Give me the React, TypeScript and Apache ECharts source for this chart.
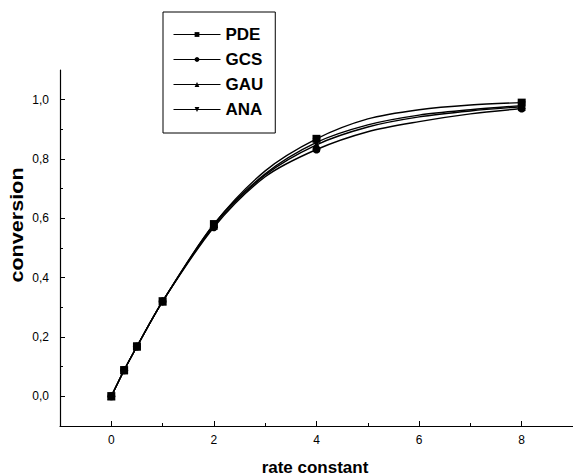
import React, { useEffect, useRef } from "react";
import * as echarts from "echarts";

const xValues = [0, 0.25, 0.5, 1, 2, 3, 4, 5, 6, 7, 8];
const markerX = [0, 0.25, 0.5, 1, 2, 4, 8];
const pdeValues = [0, 0.088, 0.168, 0.32, 0.58, 0.76, 0.868, 0.935, 0.966, 0.982, 0.99];
const gcsValues = [0, 0.088, 0.168, 0.32, 0.57, 0.74, 0.832, 0.892, 0.926, 0.952, 0.97];
const gauValues = [0, 0.088, 0.168, 0.32, 0.575, 0.746, 0.848, 0.908, 0.942, 0.962, 0.976];
const anaValues = [0, 0.088, 0.168, 0.32, 0.58, 0.75, 0.856, 0.915, 0.948, 0.966, 0.98];
const xTicks = [0, 2, 4, 6, 8];
const xMinorTicks = [1, 3, 5, 7];
const yTicks = [0, 0.2, 0.4, 0.6, 0.8, 1.0];
const yMinorTicks = [0.1, 0.3, 0.5, 0.7, 0.9];

const FONT = "'Liberation Sans', Arial, sans-serif";

function buildData(vals: number[]) {
  return xValues.map((x, i) =>
    markerX.includes(x) ? { value: [x, vals[i]] } : { value: [x, vals[i]], symbol: "none" }
  );
}

export default function App() {
  const ref = useRef<HTMLDivElement>(null);
  useEffect(() => {
    if (!ref.current) return;
    const chart = echarts.init(ref.current, null, { renderer: "svg" });
    const mkSeries = (name: string, vals: number[], symbol: string, rotate = 0) => ({
      name,
      type: "line",
      data: buildData(vals),
      smooth: 0.3,
      symbol,
      symbolSize: 8,
      symbolRotate: rotate,
      showAllSymbol: true,
      lineStyle: { color: "#000", width: 1.4 },
      itemStyle: { color: "#000" },
      xAxisIndex: 0,
      yAxisIndex: 0,
    });
    chart.setOption({
      animation: false,
      backgroundColor: "#fff",
      grid: { left: 60, top: 70, width: 514, height: 356 },
      legend: {
        orient: "vertical",
        left: 163,
        top: 12,
        padding: [14, 12, 15, 10],
        itemGap: 8,
        itemWidth: 47,
        itemHeight: 6,
        lineStyle: { width: 1 },
        borderColor: "#000",
        borderWidth: 1,
        textStyle: { fontFamily: FONT, fontSize: 17, fontWeight: "bold", color: "#000" },
        data: ["PDE", "GCS", "GAU", "ANA"],
      },
      xAxis: [
        {
          type: "value",
          min: -1,
          max: 9,
          axisLine: { onZero: false, lineStyle: { color: "#000", width: 1.2 } },
          axisTick: { inside: true, length: 5, customValues: xTicks, lineStyle: { color: "#000" } },
          axisLabel: {
            customValues: xTicks,
            margin: 8,
            fontFamily: FONT,
            fontSize: 12,
            color: "#000",
          },
          splitLine: { show: false },
        },
        {
          type: "value",
          min: -1,
          max: 9,
          position: "bottom",
          axisLine: { show: false, onZero: false },
          axisTick: { inside: true, length: 3, customValues: xMinorTicks, lineStyle: { color: "#000" } },
          axisLabel: { show: false },
          splitLine: { show: false },
        },
      ],
      yAxis: [
        {
          type: "value",
          min: -0.1,
          max: 1.1,
          axisLine: { show: true, onZero: false, lineStyle: { color: "#000", width: 1.2 } },
          axisTick: { show: true, inside: true, length: 5, customValues: yTicks, lineStyle: { color: "#000" } },
          axisLabel: {
            customValues: yTicks,
            margin: 11,
            fontFamily: FONT,
            fontSize: 12,
            color: "#000",
            formatter: (v: number) => v.toFixed(1).replace(".", ","),
          },
          splitLine: { show: false },
        },
        {
          type: "value",
          min: -0.1,
          max: 1.1,
          position: "left",
          axisLine: { show: false, onZero: false },
          axisTick: { show: true, inside: true, length: 3, customValues: yMinorTicks, lineStyle: { color: "#000" } },
          axisLabel: { show: false },
          splitLine: { show: false },
        },
      ],
      graphic: [
        {
          type: "text",
          x: 315,
          y: 467,
          style: {
            text: "rate constant",
            font: `bold 17px ${FONT}`,
            fill: "#000",
            textAlign: "center",
            textVerticalAlign: "middle",
          },
        },
        {
          type: "text",
          x: 17,
          y: 225,
          rotation: Math.PI / 2,
          scaleX: 1.2,
          style: {
            text: "conversion",
            font: `bold 18px ${FONT}`,
            fill: "#000",
            textAlign: "center",
            textVerticalAlign: "middle",
          },
        },
      ],
      series: [
        mkSeries("PDE", pdeValues, "rect"),
        mkSeries("GCS", gcsValues, "circle"),
        mkSeries("GAU", gauValues, "triangle"),
        mkSeries("ANA", anaValues, "triangle", 180),
      ],
    });
    return () => chart.dispose();
  }, []);
  return (
    <div
      ref={ref}
      style={{ position: "absolute", left: 0, top: 0, width: 573, height: 475 }}
    />
  );
}
